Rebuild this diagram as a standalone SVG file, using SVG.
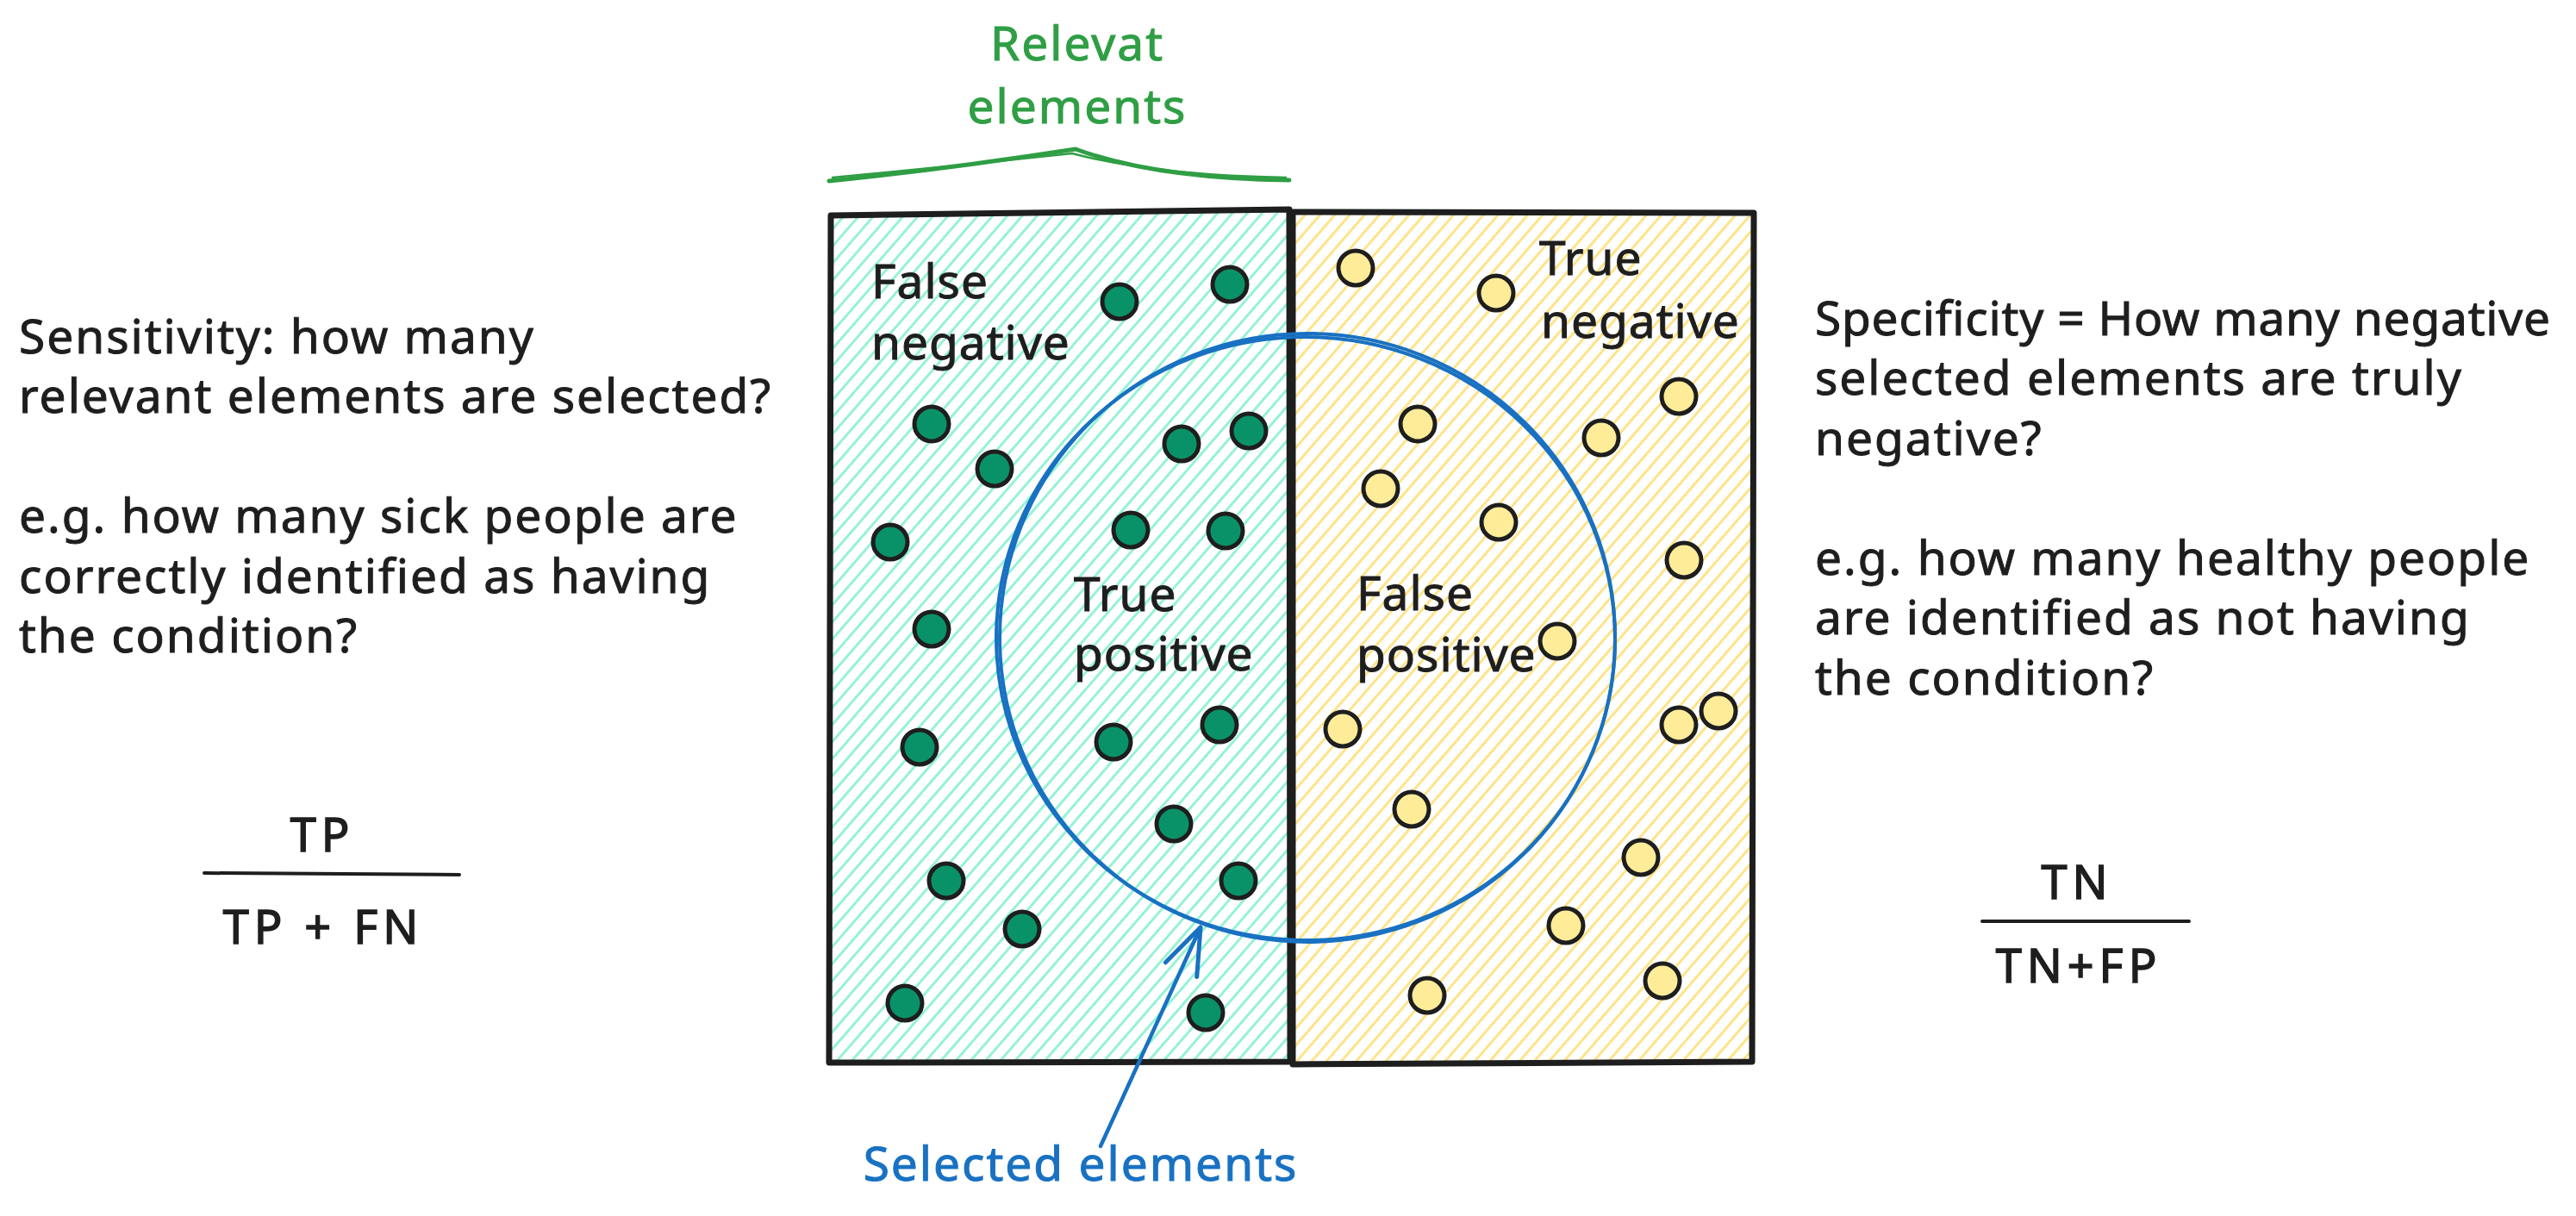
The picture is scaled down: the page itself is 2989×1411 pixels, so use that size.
<svg xmlns="http://www.w3.org/2000/svg" width="2989" height="1411" viewBox="0 0 2989 1411">
<defs>
<style>
.txt{font-family:"Noto Sans","DejaVu Sans",sans-serif;font-size:55px;fill:#1e1e1e;stroke:#1e1e1e;stroke-width:1;letter-spacing:2px}
.tight{letter-spacing:0.8px}
.lbl{font-family:"Noto Sans","DejaVu Sans",sans-serif;font-size:55px;fill:#1e1e1e;stroke:#1e1e1e;stroke-width:1;letter-spacing:1px}
.frac{font-family:"Noto Sans","DejaVu Sans",sans-serif;font-size:54px;fill:#1e1e1e;stroke:#1e1e1e;stroke-width:1.5;letter-spacing:6px;text-anchor:middle}
.green{fill:#2f9e44;stroke:#2f9e44}
.blue{fill:#1971c2;stroke:#1971c2}
.border{fill:none;stroke:#1e1e1e;stroke-width:7;stroke-linejoin:round;stroke-linecap:round}
.dotg{fill:#099268;stroke:#1e1e1e;stroke-width:5}
.doty{fill:#ffec99;stroke:#1e1e1e;stroke-width:5}
.sel{fill:none;stroke:#1971c2;stroke-width:4}
.rule{stroke:#1e1e1e;stroke-width:4;stroke-linecap:round}
</style>
<pattern id="hatchG" width="13" height="13" patternUnits="userSpaceOnUse" patternTransform="rotate(41)">
<line x1="6.5" y1="0" x2="6.5" y2="13" stroke="#96f2d7" stroke-width="3"/>
</pattern>
<pattern id="hatchY" width="13" height="13" patternUnits="userSpaceOnUse" patternTransform="rotate(41)">
<line x1="6.5" y1="0" x2="6.5" y2="13" stroke="#ffe38a" stroke-width="3"/>
</pattern>
<marker id="arrowHead" markerUnits="userSpaceOnUse" markerWidth="64" markerHeight="64" viewBox="0 0 64 64" refX="60" refY="32" orient="auto">
<path d="M6,12 L60,32 L6,52" fill="none" stroke="#1971c2" stroke-width="5" stroke-linecap="round" stroke-linejoin="round"/>
</marker>
</defs>
<rect width="2989" height="1411" fill="#ffffff"/>

<g id="relevant-box">
<path d="M964,250 L1496,243 L1497,1232 L962,1233 Z" fill="url(#hatchG)"/>
<path class="border" d="M964,250 L1496,243 L1497,1232 L962,1233 Z"/>
</g>
<g id="negative-box">
<path d="M1500,246 L2035,247 L2033,1232 L1500,1235 Z" fill="url(#hatchY)"/>
<path class="border" d="M1500,246 L2035,247 L2033,1232 L1500,1235 Z"/>
</g>

<g id="positive-dots">
<circle class="dotg" cx="1299" cy="350" r="20"/>
<circle class="dotg" cx="1427" cy="330" r="20"/>
<circle class="dotg" cx="1081" cy="492" r="20"/>
<circle class="dotg" cx="1154" cy="544" r="20"/>
<circle class="dotg" cx="1371" cy="515" r="20"/>
<circle class="dotg" cx="1449" cy="500" r="20"/>
<circle class="dotg" cx="1033" cy="629" r="20"/>
<circle class="dotg" cx="1312" cy="615" r="20"/>
<circle class="dotg" cx="1422" cy="616" r="20"/>
<circle class="dotg" cx="1081" cy="730" r="20"/>
<circle class="dotg" cx="1067" cy="867" r="20"/>
<circle class="dotg" cx="1292" cy="861" r="20"/>
<circle class="dotg" cx="1415" cy="841" r="20"/>
<circle class="dotg" cx="1362" cy="956" r="20"/>
<circle class="dotg" cx="1098" cy="1022" r="20"/>
<circle class="dotg" cx="1186" cy="1078" r="20"/>
<circle class="dotg" cx="1437" cy="1022" r="20"/>
<circle class="dotg" cx="1050" cy="1164" r="20"/>
<circle class="dotg" cx="1399" cy="1175" r="20"/>
</g>
<g id="negative-dots">
<circle class="doty" cx="1573" cy="311" r="20"/>
<circle class="doty" cx="1736" cy="340" r="20"/>
<circle class="doty" cx="1948" cy="460" r="20"/>
<circle class="doty" cx="1645" cy="492" r="20"/>
<circle class="doty" cx="1858" cy="508" r="20"/>
<circle class="doty" cx="1602" cy="567" r="20"/>
<circle class="doty" cx="1739" cy="606" r="20"/>
<circle class="doty" cx="1954" cy="650" r="20"/>
<circle class="doty" cx="1807" cy="744" r="20"/>
<circle class="doty" cx="1558" cy="846" r="20"/>
<circle class="doty" cx="1948" cy="841" r="20"/>
<circle class="doty" cx="1994" cy="825" r="20"/>
<circle class="doty" cx="1638" cy="939" r="20"/>
<circle class="doty" cx="1904" cy="995" r="20"/>
<circle class="doty" cx="1817" cy="1074" r="20"/>
<circle class="doty" cx="1656" cy="1155" r="20"/>
<circle class="doty" cx="1929" cy="1138" r="20"/>
</g>

<g id="selected-circle">
<ellipse class="sel" cx="1517" cy="740" rx="357" ry="353"/>
<ellipse class="sel" cx="1515" cy="741" rx="359" ry="350" stroke-width="2.5" transform="rotate(3 1515 741)"/>
</g>

<g id="quadrant-labels">
<text class="lbl" x="1011" y="346">False</text>
<text class="lbl" x="1011" y="417">negative</text>
<text class="lbl" x="1786" y="319">True</text>
<text class="lbl" x="1788" y="392">negative</text>
<text class="lbl" x="1246" y="709">True</text>
<text class="lbl" x="1246" y="778">positive</text>
<text class="lbl" x="1574" y="708">False</text>
<text class="lbl" x="1574" y="779">positive</text>
</g>

<g id="relevant-label">
<path d="M962,210 Q1100,196 1248,173 Q1340,207 1496,209" fill="none" stroke="#2f9e44" stroke-width="5" stroke-linecap="round"/>
<path d="M966,206 Q1105,193 1244,178 Q1338,203 1492,206" fill="none" stroke="#2f9e44" stroke-width="2.5" stroke-linecap="round"/>
<text class="txt green" x="1250" y="70" text-anchor="middle">Relevat</text>
<text class="txt green" x="1250" y="143" text-anchor="middle">elements</text>
</g>

<g id="selected-label">
<text class="txt blue" x="1254" y="1370" text-anchor="middle">Selected elements</text>
</g>

<g id="connectors">
<path d="M1277,1330 L1393,1076" fill="none" stroke="#1971c2" stroke-width="4.5" stroke-linecap="round" marker-end="url(#arrowHead)"/>
<path d="M1280,1322 L1390,1084" fill="none" stroke="#1971c2" stroke-width="2" stroke-linecap="round"/>
</g>

<g id="sensitivity-text">
<text class="txt" x="22" y="410">Sensitivity: how many</text>
<text class="txt" x="22" y="479">relevant elements are selected?</text>
<text class="txt" x="22" y="618">e.g. how many sick people are</text>
<text class="txt" x="22" y="688">correctly identified as having</text>
<text class="txt" x="22" y="757">the condition?</text>
</g>

<g id="sensitivity-formula">
<text class="frac" x="374" y="988">TP</text>
<line class="rule" x1="237" y1="1013" x2="533" y2="1015"/>
<text class="frac" x="375" y="1095" xml:space="preserve">TP + FN</text>
</g>

<g id="specificity-text">
<text class="txt tight" x="2106" y="389">Specificity = How many negative</text>
<text class="txt" x="2106" y="458">selected elements are truly</text>
<text class="txt" x="2106" y="528">negative?</text>
<text class="txt" x="2106" y="667">e.g. how many healthy people</text>
<text class="txt" x="2106" y="736">are identified as not having</text>
<text class="txt" x="2106" y="806">the condition?</text>
</g>

<g id="specificity-formula">
<text class="frac" x="2410" y="1043">TN</text>
<line class="rule" x1="2300" y1="1069" x2="2540" y2="1069"/>
<text class="frac" x="2412" y="1140">TN+FP</text>
</g>
</svg>
